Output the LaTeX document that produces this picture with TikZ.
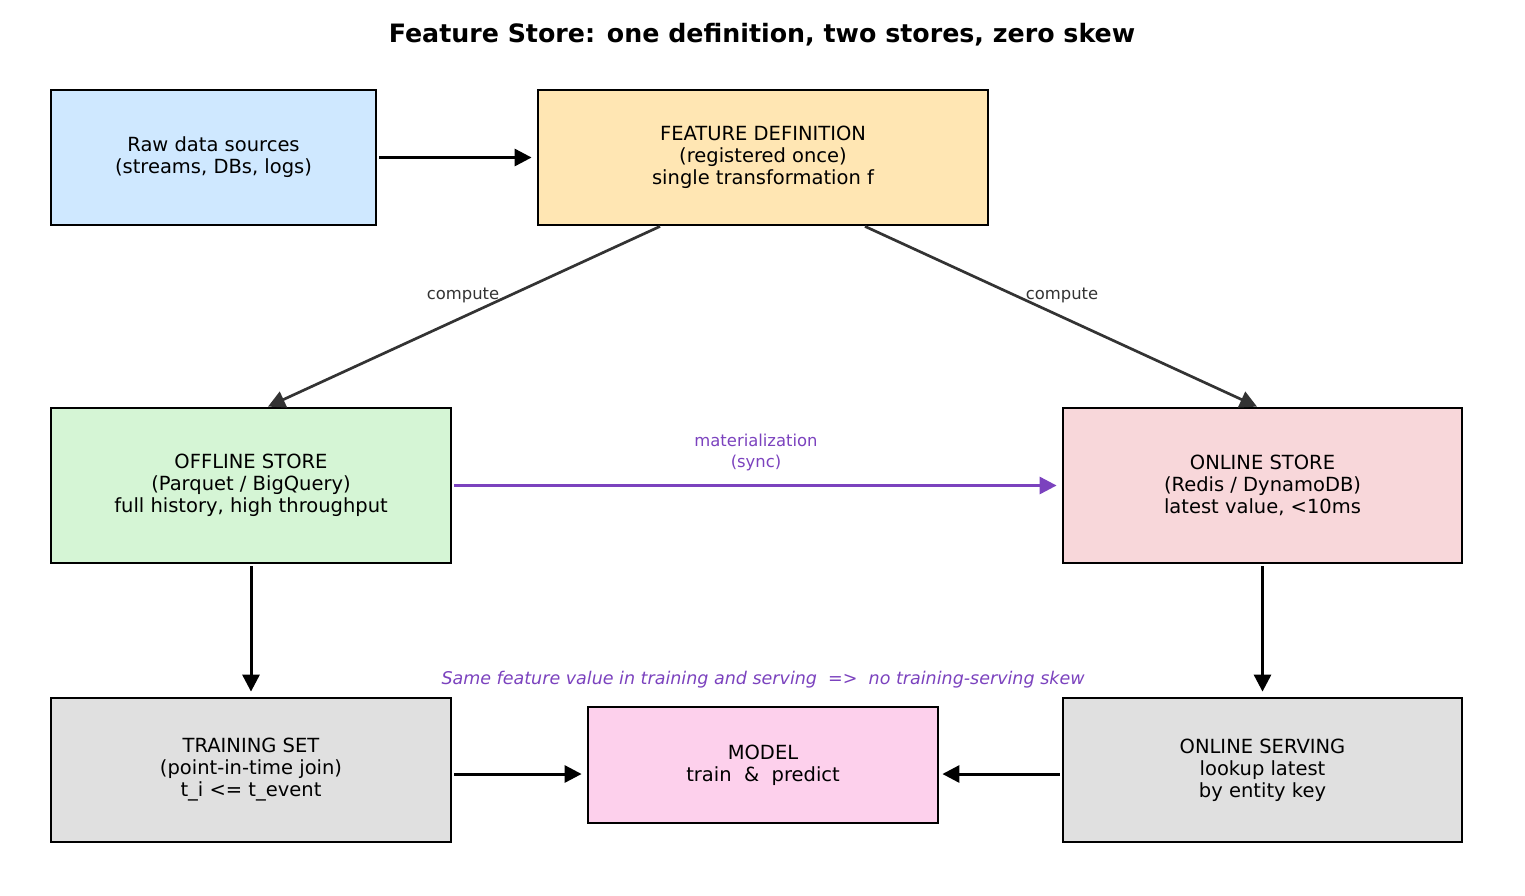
\documentclass[tikz,border=0pt]{standalone}
\usepackage{fontspec}
\setmainfont{DejaVu Sans}
\usetikzlibrary{arrows.meta,calc}
\definecolor{rawc}{HTML}{CFE8FF}
\definecolor{fdc}{HTML}{FFE6B3}
\definecolor{offc}{HTML}{D5F5D5}
\definecolor{onc}{HTML}{F8D7DA}
\definecolor{greyc}{HTML}{E0E0E0}
\definecolor{modc}{HTML}{FDD0EC}
\definecolor{purp}{HTML}{7B42BE}
\definecolor{darkg}{HTML}{333333}
\tikzset{
  box/.style={draw=black, line width=2.8pt, align=center, inner sep=0pt,
    font=\fontsize{19.5}{22}\selectfont},
  tip/.style={-{Triangle[length=17pt,width=17pt]}},
  conn/.style={line width=3pt, tip, shorten >=5pt, shorten <=2pt},
  gconn/.style={line width=2.7pt, draw=darkg, fill=darkg, tip, shorten >=0pt},
  pconn/.style={line width=3pt, draw=purp, fill=purp, tip, shorten >=5pt, shorten <=2pt},
  lbl/.style={font=\fontsize{16.4}{21}\selectfont, align=center, inner sep=0pt}
}
\begin{document}
\begin{tikzpicture}[x=1pt,y=-1pt]
\useasboundingbox (0,0) rectangle (1525,895);
\node[font=\bfseries\fontsize{25.3}{30}\selectfont, inner sep=0pt] (title) at (762,35) {Feature Store: one definition, two stores, zero skew};

\node[box, fill=rawc, minimum width=325pt, minimum height=135pt] (raw) at (213.5,157.5) {Raw data sources\\(streams, DBs, logs)};
\node[box, fill=fdc, minimum width=450pt, minimum height=135pt] (fd) at (763,157.5) {FEATURE DEFINITION\\(registered once)\\single transformation f};
\node[box, fill=offc, minimum width=400pt, minimum height=155pt] (off) at (251,485.5) {OFFLINE STORE\\(Parquet / BigQuery)\\full history, high throughput};
\node[box, fill=onc, minimum width=399pt, minimum height=155pt] (on) at (1262.5,485.5) {ONLINE STORE\\(Redis / DynamoDB)\\latest value, <10ms};
\node[box, fill=greyc, minimum width=400pt, minimum height=144pt] (train) at (251,770) {TRAINING SET\\(point-in-time join)\\t\_i <= t\_event};
\node[box, fill=modc, minimum width=350pt, minimum height=116pt] (model) at (763,765) {MODEL\\train\ \ \&\ \ predict};
\node[box, fill=greyc, minimum width=399pt, minimum height=144pt] (serve) at (1262.5,770) {ONLINE SERVING\\lookup latest\\by entity key};

\draw[conn] (raw.east) -- (fd.west);
\draw[gconn] ([xshift=-103pt]fd.south) -- ([xshift=17pt]off.north);
\draw[gconn] ([xshift=102pt]fd.south) -- ([xshift=-5.5pt]on.north);
\draw[pconn] (off.east) -- (on.west);
\draw[conn] (off.south) -- (train.north);
\draw[conn] (on.south) -- (serve.north);
\draw[conn] ([yshift=-4pt]train.east) -- ([yshift=-9pt]model.west);
\draw[conn, shorten >=3pt] ([yshift=-4pt]serve.west) -- ([yshift=-9pt]model.east);

\node[lbl, text=darkg] (c1) at (463,295) {compute};
\node[lbl, text=darkg] (c2) at (1062,295) {compute};
\node[lbl, text=purp] (mat) at (756,452) {materialization\\(sync)};
\node[lbl, text=purp, font=\itshape\fontsize{17.5}{21}\selectfont] (note) at (763,680) {Same feature value in training and serving\ \ =>\ \ no training-serving skew};
\end{tikzpicture}
\end{document}
